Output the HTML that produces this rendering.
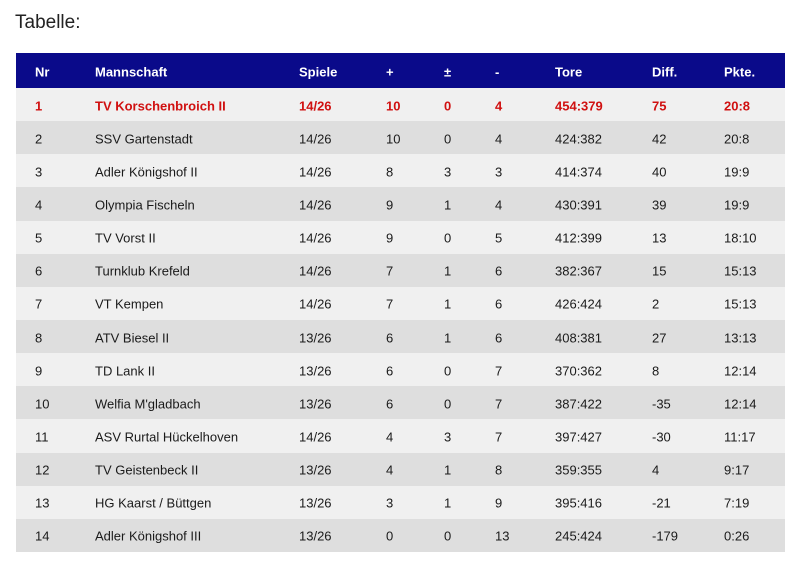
<!DOCTYPE html>
<html><head><style>
body{margin:0;background:#fff;font-family:"Liberation Sans",Arial,sans-serif;width:800px;height:566px;position:relative;overflow:hidden}
.t{position:absolute;left:15px;top:12px;font-size:19px;color:#222}
.tab{position:absolute;left:16px;top:53px;width:769px}
.r{position:relative;height:33.15px;font-size:13px;color:#1a1a1a}
.r span{position:absolute;top:50%;transform:translateY(-45%);white-space:nowrap}
.h{height:35px;background:#0a0a8a;color:#fff;font-weight:bold}
.o{background:#f0f0f0}.e{background:#dedede}
.red{color:#d01010;font-weight:bold}
</style></head><body>
<div class="t">Tabelle:</div>
<div class="tab" id="tab"></div>
<script>
var xs=[19,79,283,370,428,479,539,636,708];
var rows=[["Nr","Mannschaft","Spiele","+","±","-","Tore","Diff.","Pkte."],
["1","TV Korschenbroich II","14/26","10","0","4","454:379","75","20:8"],
["2","SSV Gartenstadt","14/26","10","0","4","424:382","42","20:8"],
["3","Adler Königshof II","14/26","8","3","3","414:374","40","19:9"],
["4","Olympia Fischeln","14/26","9","1","4","430:391","39","19:9"],
["5","TV Vorst II","14/26","9","0","5","412:399","13","18:10"],
["6","Turnklub Krefeld","14/26","7","1","6","382:367","15","15:13"],
["7","VT Kempen","14/26","7","1","6","426:424","2","15:13"],
["8","ATV Biesel II","13/26","6","1","6","408:381","27","13:13"],
["9","TD Lank II","13/26","6","0","7","370:362","8","12:14"],
["10","Welfia M'gladbach","13/26","6","0","7","387:422","-35","12:14"],
["11","ASV Rurtal Hückelhoven","14/26","4","3","7","397:427","-30","11:17"],
["12","TV Geistenbeck II","13/26","4","1","8","359:355","4","9:17"],
["13","HG Kaarst / Büttgen","13/26","3","1","9","395:416","-21","7:19"],
["14","Adler Königshof III","13/26","0","0","13","245:424","-179","0:26"]];
var h="";
rows.forEach(function(r,i){
 var c=i==0?"r h":"r "+(i%2?"o":"e")+(i==1?" red":"");
 h+='<div class="'+c+'">';
 r.forEach(function(v,j){h+='<span style="left:'+xs[j]+'px">'+v+'</span>';});
 h+='</div>';
});
document.getElementById("tab").innerHTML=h;
</script>
</body></html>
